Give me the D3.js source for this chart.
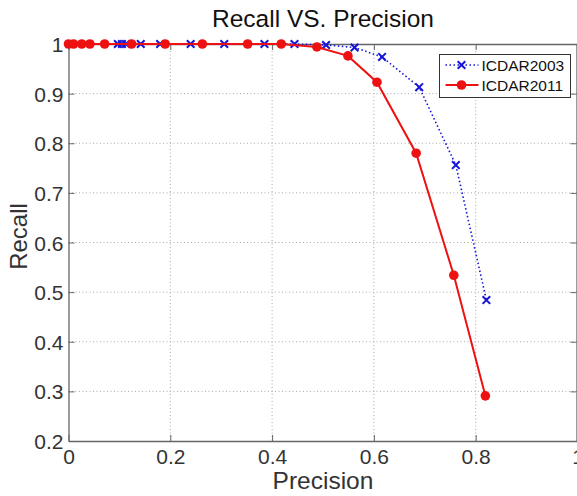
<!DOCTYPE html>
<html>
<head>
<meta charset="utf-8">
<script src="https://cdn.jsdelivr.net/npm/d3@7"></script>
<style>
  body { margin: 0; background: #fff; }
  text { font-family: "Liberation Sans", Arial, sans-serif; }
</style>
</head>
<body>
<div id="chart-area"></div>
<script>
// ICDAR2003 (blue, dotted, x markers)
const precision2003 = [0.097, 0.105, 0.113, 0.142, 0.180, 0.240, 0.306, 0.385, 0.444, 0.506, 0.562, 0.616, 0.689, 0.761, 0.821]
const recall2003 = [1, 1, 1, 1, 1, 1, 1, 1, 1, 0.998, 0.993, 0.974, 0.913, 0.756, 0.484]

// ICDAR2011 (red, solid, circles)
const precision2011 = [0, 0.010, 0.026, 0.042, 0.071, 0.124, 0.190, 0.263, 0.352, 0.418, 0.488, 0.549, 0.606, 0.683, 0.757, 0.819]
const recall2011 = [1, 1, 1, 1, 1, 1, 1, 1, 1, 1, 0.994, 0.976, 0.923, 0.780, 0.534, 0.291]

const xTicks = [0, 0.2, 0.4, 0.6, 0.8, 1]
const yTicks = [0.2, 0.3, 0.4, 0.5, 0.6, 0.7, 0.8, 0.9, 1]
const seriesNames = ["ICDAR2003", "ICDAR2011"]

const W = 577, H = 496
const LEFT = 68.5, RIGHT = 577.5, TOP = 44, BOTTOM = 441
const BLUE = "#1515d8", RED = "#ee1111"

const svg = d3.select("#chart-area").append("svg")
  .attr("width", W)
  .attr("height", H)

const x = d3.scaleLinear().domain([0, 1]).range([LEFT, RIGHT])
const y = d3.scaleLinear().domain([0.2, 1]).range([BOTTOM, TOP])

// grid
const grid = svg.append("g")
grid.selectAll(".vgrid")
  .data(xTicks.slice(1, -1))
  .enter().append("line")
    .attr("x1", d => x(d)).attr("x2", d => x(d))
    .attr("y1", TOP).attr("y2", BOTTOM)
    .attr("stroke", "#a8a8a8")
    .attr("stroke-dasharray", "1,2.5")
grid.selectAll(".hgrid")
  .data(yTicks.slice(1, -1))
  .enter().append("line")
    .attr("x1", LEFT).attr("x2", RIGHT)
    .attr("y1", d => y(d)).attr("y2", d => y(d))
    .attr("stroke", "#a8a8a8")
    .attr("stroke-dasharray", "1,2.5")

// axes (ticks inward)
const xAxis = svg.append("g")
  .attr("transform", `translate(0, ${BOTTOM})`)
  .call(d3.axisBottom(x).tickValues(xTicks).tickSizeInner(-6).tickSizeOuter(0).tickPadding(8).tickFormat(d3.format("")))
const xTop = svg.append("g")
  .attr("transform", `translate(0, ${TOP})`)
  .call(d3.axisTop(x).tickValues(xTicks).tickSizeInner(-6).tickSizeOuter(0).tickFormat(""))
const yAxis = svg.append("g")
  .attr("transform", `translate(${LEFT}, 0)`)
  .call(d3.axisLeft(y).tickValues(yTicks).tickSizeInner(-6).tickSizeOuter(0).tickPadding(5).tickFormat(d3.format("")))
const yRight = svg.append("g")
  .attr("transform", `translate(${RIGHT - 1}, 0)`)
  .call(d3.axisRight(y).tickValues(yTicks).tickSizeInner(-6).tickSizeOuter(0).tickFormat(""))

svg.selectAll(".domain").attr("stroke", "#666").attr("stroke-width", 1.3)
svg.selectAll(".tick line").attr("stroke", "#666")
svg.selectAll(".tick text")
  .attr("fill", "#333")
  .attr("font-size", "21px")
xAxis.selectAll(".tick text").attr("dy", "0.72em")
yAxis.selectAll(".tick text").attr("dy", "0.36em")

// lines
const line = d3.line().x(d => x(d[0])).y(d => y(d[1]))
const data2003 = precision2003.map((p, i) => [p, recall2003[i]])
const data2011 = precision2011.map((p, i) => [p, recall2011[i]])

svg.append("path")
  .datum(data2003)
  .attr("d", line)
  .attr("fill", "none")
  .attr("stroke", BLUE)
  .attr("stroke-width", 1.6)
  .attr("stroke-dasharray", "1.5,2.5")

const cross = "M-3.8,-3.8L3.8,3.8M-3.8,3.8L3.8,-3.8"
svg.selectAll(".x2003")
  .data(data2003)
  .enter().append("path")
    .attr("transform", d => `translate(${x(d[0])}, ${y(d[1])})`)
    .attr("d", cross)
    .attr("stroke", BLUE)
    .attr("stroke-width", 2)

svg.append("path")
  .datum(data2011)
  .attr("d", line)
  .attr("fill", "none")
  .attr("stroke", RED)
  .attr("stroke-width", 2)

svg.selectAll(".c2011")
  .data(data2011)
  .enter().append("circle")
    .attr("cx", d => x(d[0]))
    .attr("cy", d => y(d[1]))
    .attr("r", 4.8)
    .attr("fill", RED)

// title and labels
svg.append("text")
  .attr("x", (LEFT + RIGHT) / 2)
  .attr("y", 27)
  .attr("text-anchor", "middle")
  .attr("font-size", "24.5px")
  .attr("fill", "#111")
  .text("Recall VS. Precision")

svg.append("text")
  .attr("x", (LEFT + RIGHT) / 2)
  .attr("y", 489)
  .attr("text-anchor", "middle")
  .attr("font-size", "24.5px")
  .attr("fill", "#333")
  .text("Precision")

svg.append("text")
  .attr("transform", "translate(27, 236.5) rotate(-90)")
  .attr("text-anchor", "middle")
  .attr("font-size", "24px")
  .attr("fill", "#333")
  .text("Recall")

// legend
const legend = svg.append("g").attr("transform", "translate(439.5, 54.5)")
legend.append("rect")
  .attr("width", 131).attr("height", 43)
  .attr("fill", "#fff")
  .attr("stroke", "#333")
  .attr("stroke-width", 1)

const rows = legend.selectAll(".row")
  .data(seriesNames)
  .enter().append("g")
    .attr("transform", (d, i) => `translate(0, ${10.5 + i * 20})`)
rows.append("line")
  .attr("x1", 6).attr("x2", 39)
  .attr("stroke", (d, i) => i === 0 ? BLUE : RED)
  .attr("stroke-width", (d, i) => i === 0 ? 1.6 : 2)
  .attr("stroke-dasharray", (d, i) => i === 0 ? "1.5,2.5" : null)
rows.filter((d, i) => i === 0).append("path")
  .attr("transform", "translate(22, 0)")
  .attr("d", cross)
  .attr("stroke", BLUE)
  .attr("stroke-width", 2)
rows.filter((d, i) => i === 1).append("circle")
  .attr("cx", 22).attr("r", 4.8)
  .attr("fill", RED)
rows.append("text")
  .attr("x", 42)
  .attr("dy", "0.36em")
  .attr("font-size", "15.5px")
  .attr("fill", "#111")
  .text(d => d)
</script>
</body>
</html>
